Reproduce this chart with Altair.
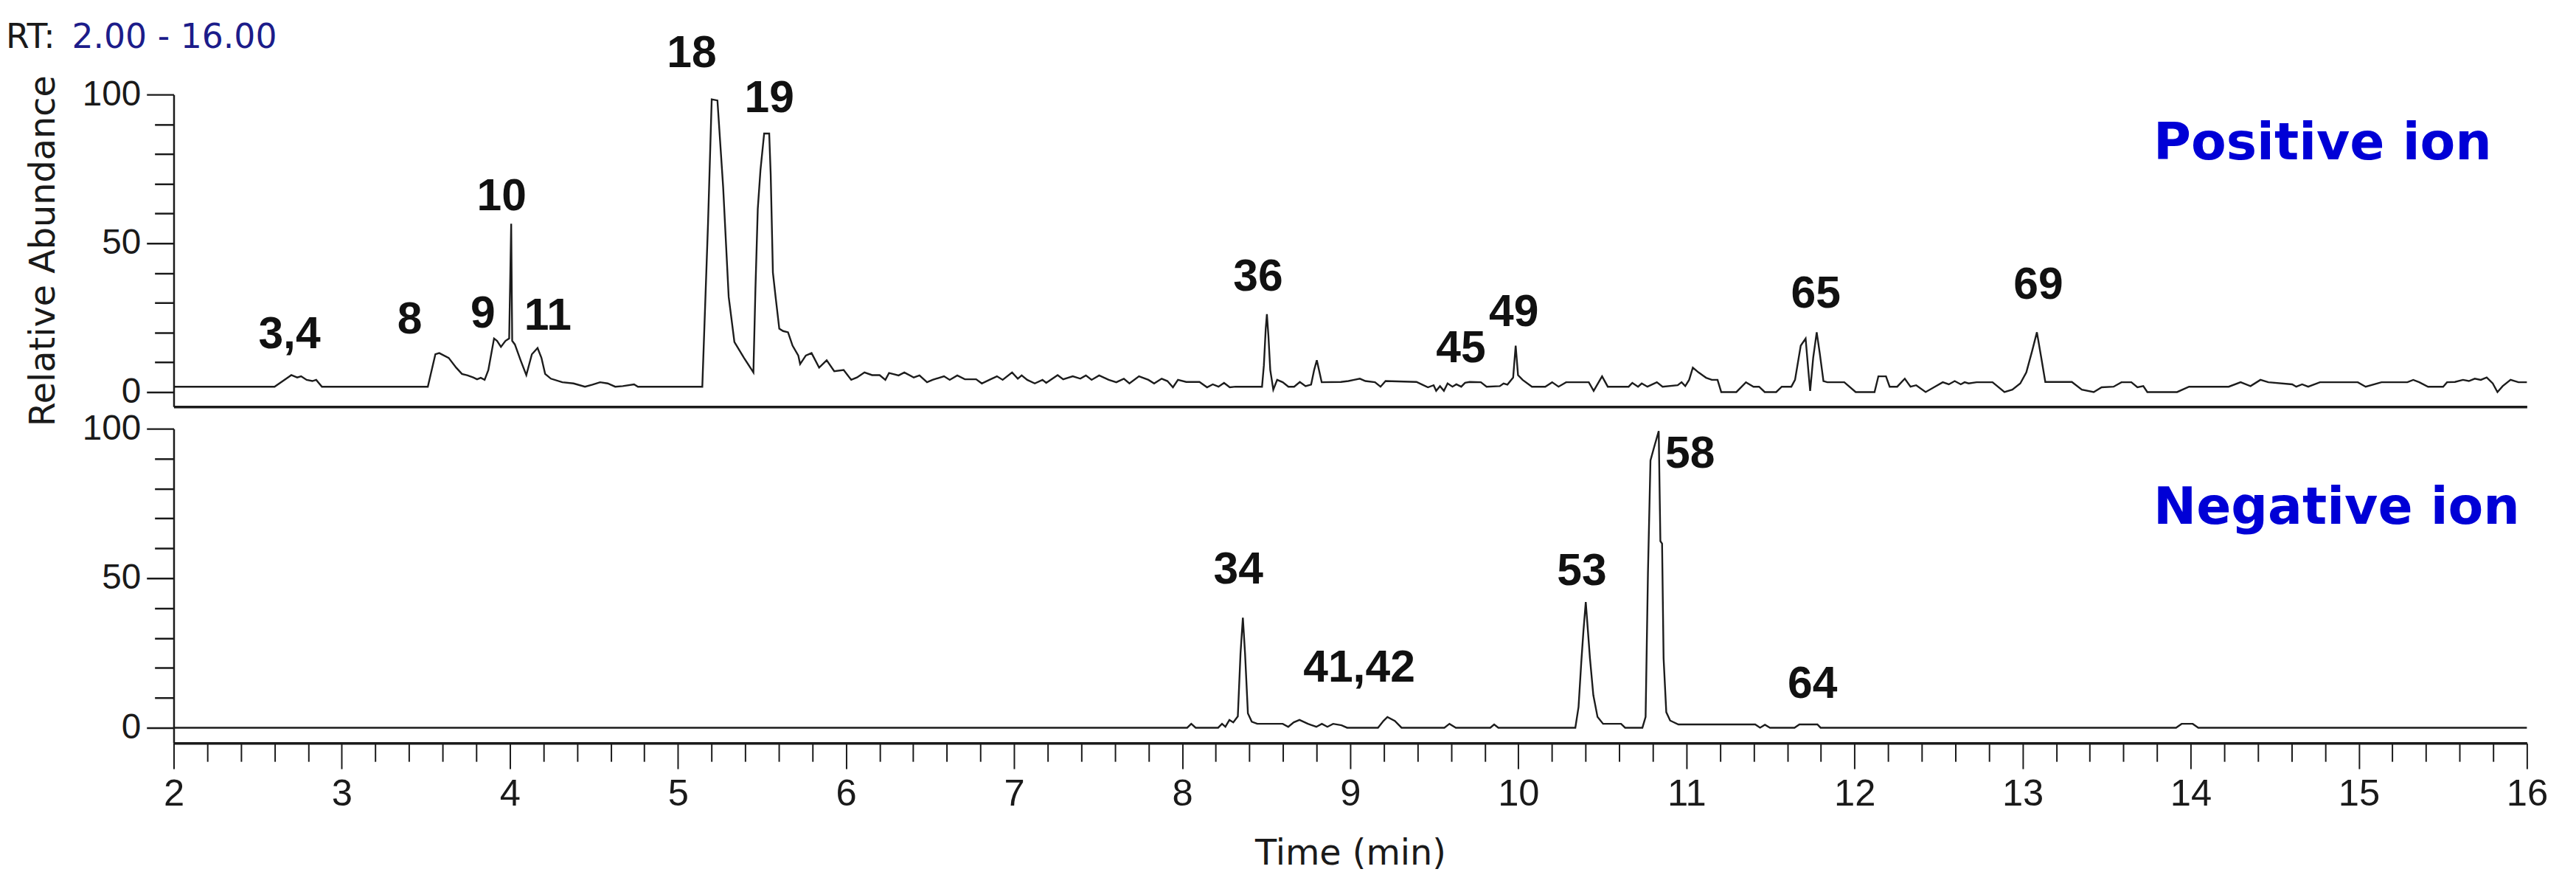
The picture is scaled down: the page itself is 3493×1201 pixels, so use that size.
import altair as alt
import pandas as pd

# ---------------- data ----------------
pos_time = [2.00, 2.60, 2.70, 2.735, 2.758, 2.791, 2.825, 2.848, 2.882,
            3.512, 3.557, 3.580, 3.636, 3.681, 3.715, 3.749, 3.782, 3.805, 3.827, 3.850,
            3.872, 3.906, 3.924, 3.947, 3.974, 3.996, 4.008, 4.014, 4.030, 4.064, 4.098, 4.131, 4.165, 4.188,
            4.210, 4.244, 4.312, 4.379, 4.447, 4.492, 4.537, 4.582, 4.627, 4.672, 4.739, 4.762,
            5.145, 5.179, 5.201, 5.235, 5.269, 5.302, 5.336, 5.393, 5.449,
            5.461, 5.475, 5.491, 5.513, 5.543, 5.552, 5.565, 5.581, 5.603, 5.626, 5.655, 5.682, 5.716, 5.727,
            5.761, 5.795, 5.840, 5.885, 5.930, 5.986, 6.031, 6.065, 6.110, 6.155, 6.200, 6.234, 6.256, 6.313,
            6.347, 6.403, 6.437, 6.482, 6.515, 6.583, 6.617, 6.662, 6.707, 6.774, 6.808, 6.853, 6.898, 6.932,
            6.988, 7.022, 7.045, 7.078, 7.123, 7.169, 7.191, 7.259, 7.292, 7.349, 7.394, 7.427, 7.461, 7.506,
            7.563, 7.608, 7.653, 7.686, 7.743, 7.799, 7.833, 7.878, 7.912, 7.945, 7.975, 8.024, 8.103, 8.148,
            8.182, 8.216, 8.249, 8.283, 8.317, 8.475, 8.486, 8.497, 8.504, 8.513, 8.524, 8.542, 8.565, 8.598,
            8.632, 8.666, 8.700, 8.734, 8.767, 8.785, 8.801, 8.817, 8.830,
            8.944, 8.989, 9.023, 9.057, 9.090, 9.147, 9.180, 9.210, 9.394, 9.428, 9.462, 9.496, 9.511, 9.534,
            9.557, 9.579, 9.608, 9.631, 9.660, 9.683, 9.710, 9.777, 9.811, 9.890, 9.912, 9.935, 9.969, 9.984,
            9.998, 10.025, 10.081, 10.160, 10.201, 10.239, 10.284, 10.419, 10.448, 10.498, 10.532, 10.656,
            10.678, 10.712, 10.734, 10.768, 10.824, 10.858, 10.948, 10.971, 10.993, 11.016, 11.038, 11.072,
            11.117, 11.151, 11.185, 11.207, 11.297, 11.354, 11.399, 11.432, 11.466, 11.534, 11.567, 11.624,
            11.646, 11.680, 11.709, 11.725, 11.736, 11.754, 11.775, 11.793, 11.815, 11.838, 11.939, 12.007,
            12.119, 12.142, 12.187, 12.209, 12.254, 12.299, 12.333, 12.367, 12.423,
            12.478, 12.525, 12.561, 12.596, 12.632, 12.655, 12.679, 12.726, 12.821, 12.892, 12.939, 12.986,
            13.022, 13.057, 13.085, 13.111, 13.135, 13.293, 13.352, 13.423, 13.470, 13.541, 13.588, 13.647,
            13.683, 13.718, 13.742, 13.919, 13.990, 14.226, 14.297, 14.356, 14.415, 14.462, 14.604, 14.628,
            14.663, 14.699, 14.769, 14.994, 15.041, 15.135, 15.289, 15.324, 15.360, 15.412, 15.502, 15.525,
            15.572, 15.620, 15.655, 15.690, 15.726, 15.761, 15.797, 15.825, 15.856, 15.903, 15.950, 16.00]
pos_abund = [1.8, 1.8, 5.7, 4.9, 5.3, 4.1, 3.7, 4.1, 1.8,
             1.8, 12.7, 13.1, 11.5, 8.2, 6.1, 5.6, 4.9, 4.3, 4.8, 4.1,
             7.4, 18.0, 17.2, 15.2, 17.2, 18.0, 56.6, 17.2, 16.0, 10.7, 5.7, 12.7, 14.8, 11.5,
             6.1, 4.5, 3.3, 2.9, 1.8, 2.5, 3.3, 2.9, 1.8, 2.0, 2.6, 1.8,
             1.8, 56.6, 98.4, 98.0, 68.9, 32.0, 16.8, 11.5, 6.6,
             34.4, 61.5, 74.6, 86.9, 86.9, 73.0, 40.2, 32.0, 21.3, 20.5, 20.1, 15.6, 12.3, 9.4,
             12.3, 13.1, 8.2, 10.7, 7.0, 7.4, 4.1, 4.9, 6.6, 5.7, 5.7, 4.1, 6.4, 5.6,
             6.6, 4.9, 5.6, 3.3, 4.1, 5.3, 4.1, 5.6, 4.3, 4.3, 2.9, 4.1, 5.3, 4.1,
             6.6, 4.5, 5.6, 4.1, 2.9, 4.1, 3.1, 5.7, 4.3, 5.3, 4.5, 5.6, 4.1, 5.6,
             4.1, 3.3, 4.5, 2.9, 5.3, 4.1, 2.9, 4.5, 3.7, 1.6, 4.1, 3.4, 3.4, 1.6,
             2.6, 1.8, 3.1, 1.6, 1.8, 1.8, 9.0, 21.3, 26.2, 18.9, 7.4, 0.8, 4.1, 3.3,
             1.8, 1.8, 3.4, 2.0, 2.5, 7.4, 10.7, 6.6, 3.3,
             3.4, 3.7, 4.1, 4.5, 3.7, 3.3, 1.8, 3.7, 3.4, 2.5, 1.6, 2.3, 0.4, 2.0,
             0.4, 2.9, 1.8, 2.6, 1.8, 3.1, 3.4, 3.3, 1.8, 2.0, 2.9, 2.5, 4.9, 15.6,
             5.7, 4.1, 1.8, 1.8, 3.3, 1.8, 3.3, 3.3, 0.4, 5.3, 1.8, 1.8,
             3.1, 1.8, 2.9, 1.8, 3.3, 1.8, 2.3, 3.3, 2.0, 4.1, 8.2, 6.6,
             4.8, 4.1, 4.1, 0.0, 0.0, 3.3, 1.8, 1.8, 0.0, 0.0, 1.8, 1.8,
             4.1, 15.6, 18.0, 7.4, 0.4, 11.5, 20.1, 13.1, 3.7, 3.3, 3.3, 0.0,
             0.0, 5.3, 5.3, 1.8, 1.8, 4.5, 1.8, 2.3, 0.0,
             1.8, 3.3, 2.6, 3.7, 2.6, 3.3, 2.9, 3.3, 3.3, 0.0, 0.8, 2.9,
             6.6, 13.9, 20.1, 11.5, 3.4, 3.4, 0.8, 0.0, 1.6, 1.8, 3.3, 3.3,
             1.6, 2.0, 0.0, 0.0, 1.8, 1.8, 3.3, 2.0, 4.1, 3.3, 2.6, 1.8,
             2.6, 1.8, 3.3, 3.3, 1.8, 3.3, 3.3, 4.1, 3.3, 1.8, 1.8, 3.3,
             3.4, 4.1, 3.7, 4.5, 4.1, 4.9, 2.9, 0.0, 2.0, 4.1, 3.3, 3.3]

neg_time = [2.00, 8.030, 8.054, 8.080, 8.214, 8.237, 8.257, 8.281, 8.304, 8.331, 8.347, 8.361, 8.374,
            8.391, 8.414, 8.447, 8.598, 8.631, 8.664, 8.698, 8.748, 8.798, 8.831, 8.864, 8.898, 8.948,
            8.981, 9.165, 9.198, 9.221, 9.265, 9.305, 9.560, 9.590, 9.628, 9.833, 9.856, 9.881, 10.339,
            10.358, 10.374, 10.387, 10.401, 10.413, 10.426, 10.446, 10.471, 10.504, 10.611, 10.635, 10.738,
            10.757, 10.771, 10.786, 10.806, 10.835, 10.845, 10.855, 10.864, 10.880, 10.903, 10.952, 11.409,
            11.438, 11.467, 11.497, 11.643, 11.672, 11.779, 11.798, 13.913, 13.946, 14.012, 14.045, 16.00]
neg_abund = [0.0, 0.0, 1.3, 0.0, 0.0, 1.3, 0.3, 2.6, 1.8, 3.8, 24.8, 36.8, 24.8,
             4.8, 2.0, 1.3, 1.3, 0.3, 1.8, 2.6, 1.3, 0.3, 1.3, 0.3, 1.3, 0.8,
             0.0, 0.0, 2.3, 3.6, 2.3, 0.0, 0.0, 1.3, 0.0, 0.0, 1.1, 0.0, 0.0,
             6.9, 21.6, 32.2, 42.0, 33.0, 23.2, 10.9, 3.6, 1.3, 1.3, 0.0, 0.0,
             3.6, 51.8, 89.4, 93.5, 99.2, 62.4, 61.6, 23.2, 5.2, 2.4, 1.1, 1.1,
             0.0, 1.0, 0.0, 0.0, 1.1, 1.1, 0.0, 0.0, 1.3, 1.3, 0.0, 0.0]

pos_label_text = ["3,4", "8", "9", "10", "11", "18", "19", "36", "45", "49", "65", "69"]
pos_label_time = [2.689, 3.404, 3.840, 3.951, 4.226, 5.082, 5.544, 8.452, 9.658, 9.973, 11.770, 13.094]
pos_label_abund = [14.8, 19.7, 21.7, 61.2, 20.9, 109.2, 94.2, 34.2, 10.1, 22.3, 28.4, 31.3]

neg_label_text = ["34", "41,42", "53", "58", "64"]
neg_label_time = [8.334, 9.053, 10.378, 11.022, 11.750]
neg_label_abund = [48.3, 15.3, 47.8, 87.0, 10.1]

mode_text = ["Positive ion", "Negative ion"]
mode_time = [13.778, 13.778]
mode_abund = [78.1, 68.1]

x_tick_values = [round(2 + 0.2 * i, 1) for i in range(71)]
y_tick_values = list(range(0, 101, 10))

# ---------------- styling ----------------
INK = "#1a1a1a"
W = 3212
X_SCALE = alt.Scale(domain=[2, 16], nice=False, zero=False)
TOP_Y = alt.Scale(domain=[-4.93, 100], nice=False, zero=False)
BOT_Y = alt.Scale(domain=[-5.15, 100], nice=False, zero=False)

y_axis_common = dict(
    values=y_tick_values,
    labelExpr="datum.value % 50 === 0 ? datum.label : ''",
    tickSize={"condition": {"test": "datum.value % 50 === 0", "value": 37}, "value": 26},
    tickWidth=2.5, tickColor=INK, domainColor=INK, domainWidth=2.5,
    labelFont="Liberation Sans", labelFontSize=48, labelColor=INK, labelPadding=8,
    grid=False,
)
top_y_axis = alt.Axis(title="Relative Abundance", titleFont="DejaVu Sans", titleFontSize=48,
                      titleFontWeight="normal", titleColor=INK, titlePadding=28, **y_axis_common)
bot_y_axis = alt.Axis(title=None, **y_axis_common)

top_x_axis = alt.Axis(title=None, ticks=False, labels=False, domain=True, domainWidth=3.5,
                      domainColor=INK, grid=False)
major = "abs(datum.value - round(datum.value)) < 0.001"
bot_x_axis = alt.Axis(
    title="Time (min)", titleFont="DejaVu Sans", titleFontSize=48, titleFontWeight="normal",
    titleColor=INK, titlePadding=32,
    values=x_tick_values,
    labelExpr=f"{major} ? format(datum.value, 'd') : ''",
    tickSize={"condition": {"test": major, "value": 35}, "value": 25},
    tickWidth=2, tickColor=INK, domainColor=INK, domainWidth=3.5,
    labelFont="Liberation Sans", labelFontSize=51, labelColor=INK, labelPadding=10,
    labelFlush=False, labelOverlap=False, grid=False,
)

pos_df = pd.DataFrame({"t": pos_time, "v": pos_abund})
neg_df = pd.DataFrame({"t": neg_time, "v": neg_abund})
pos_lab = pd.DataFrame({"t": pos_label_time, "v": pos_label_abund, "label": pos_label_text})
neg_lab = pd.DataFrame({"t": neg_label_time, "v": neg_label_abund, "label": neg_label_text})
mode_df = pd.DataFrame({"t": mode_time, "v": mode_abund, "label": mode_text})


def panel(trace, labels, mode_row, yscale, xaxis, yaxis, height, extra=None):
    x = alt.X("t:Q", scale=X_SCALE, axis=xaxis)
    y = alt.Y("v:Q", scale=yscale, axis=yaxis)
    line = alt.Chart(trace).mark_line(color="#1c1c1c", strokeWidth=2.4, interpolate="linear").encode(
        x=x, y=y, order="t:Q")
    lab = alt.Chart(labels).mark_text(font="Liberation Sans", fontWeight="bold", fontSize=61,
                                      color="#111111", align="center", baseline="alphabetic").encode(
        x=x, y=y, text="label:N")
    mode = alt.Chart(mode_row).mark_text(font="DejaVu Sans", fontWeight="bold", fontSize=70,
                                         color="#0000d6", align="left", baseline="alphabetic").encode(
        x=x, y=y, text="label:N")
    layers = [line, lab, mode] + (extra or [])
    return alt.layer(*layers).properties(width=W, height=height)


rt_df = pd.DataFrame({"a": ["RT:"], "b": ["2.00 - 16.00"]})
rt_black = alt.Chart(rt_df).mark_text(font="DejaVu Sans", fontSize=46, color=INK, align="left",
                                      baseline="alphabetic").encode(
    x=alt.value(-229), y=alt.value(-64), text="a:N")
rt_blue = alt.Chart(rt_df).mark_text(font="DejaVu Sans", fontSize=46, color="#1c1c8a", align="left",
                                     baseline="alphabetic").encode(
    x=alt.value(-139), y=alt.value(-64), text="b:N")

top = panel(pos_df, pos_lab, mode_df.iloc[[0]], TOP_Y, top_x_axis, top_y_axis, 426, [rt_black, rt_blue])
bottom = panel(neg_df, neg_lab, mode_df.iloc[[1]], BOT_Y, bot_x_axis, bot_y_axis, 429)

chart = alt.vconcat(top, bottom, spacing=30, bounds="flush").properties(
    padding={"left": 0, "top": 16, "right": 30, "bottom": 10},
    background="white",
).configure_view(stroke=None).configure_axis(grid=False)

chart.save("out.html", embed_options={"renderer": "svg", "actions": False})
